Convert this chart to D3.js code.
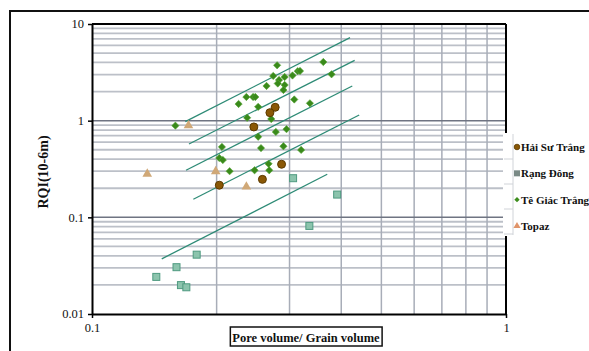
<!DOCTYPE html>
<html>
<head>
<meta charset="utf-8">
<script src="https://cdn.jsdelivr.net/npm/d3@7"></script>
<style>
  body { margin: 0; background: #fff; }
  svg { display: block; font-family: "Liberation Serif", "Times New Roman", serif; }
</style>
</head>
<body>
<div id="chartDiv"></div>
<script>
// series names, in legend order
var seriesNames = ["Hải Sư Trắng", "Rạng Đông", "Tê Giác Trắng", "Topaz"];

// [pore volume/grain volume, RQI]
var haiSuTrang = [[0.277, 1.376], [0.269, 1.210], [0.246, 0.861], [0.287, 0.354],
    [0.258, 0.247], [0.203, 0.215]];

var rangDong = [[0.143, 0.0242], [0.160, 0.0305], [0.164, 0.0199], [0.169, 0.0189],
    [0.179, 0.0411], [0.306, 0.254], [0.391, 0.172], [0.335, 0.0815]];

var teGiacTrang = [[0.159, 0.888], [0.206, 0.535], [0.203, 0.411], [0.207, 0.392],
    [0.215, 0.300], [0.226, 1.488], [0.236, 1.758], [0.245, 1.758], [0.248, 1.758],
    [0.237, 1.072], [0.247, 0.307], [0.252, 1.392], [0.252, 0.682], [0.256, 0.520],
    [0.264, 2.285], [0.267, 0.358], [0.268, 0.307], [0.271, 1.041], [0.274, 2.900],
    [0.280, 3.740], [0.283, 2.636], [0.281, 2.425], [0.292, 2.830], [0.292, 2.340],
    [0.290, 2.077], [0.278, 0.764], [0.295, 0.817], [0.290, 0.544], [0.305, 2.934],
    [0.314, 3.250], [0.318, 3.266], [0.308, 1.656], [0.320, 0.498], [0.336, 1.513],
    [0.362, 4.046], [0.379, 3.018]];

var topaz = [[0.171, 0.882], [0.136, 0.278], [0.199, 0.295], [0.236, 0.205]];

// zone lines, start and end points
var zoneLines = [
    [[0.168, 0.976], [0.420, 7.22]],
    [[0.1715, 0.574], [0.431, 4.21]],
    [[0.1687, 0.307], [0.4253, 2.285]],
    [[0.1757, 0.154], [0.442, 1.145]],
    [[0.1474, 0.0372], [0.370, 0.279]]
];

var xTicks = [0.1, 1];
var yTicks = [0.01, 0.1, 1, 10];

var outerWidth = 589, outerHeight = 351;
var margin = {top: 24, right: 83, bottom: 37, left: 92};
var width = outerWidth - margin.left - margin.right,
    height = outerHeight - margin.top - margin.bottom;

var svg = d3.select("#chartDiv")
    .append("svg")
    .attr("width", outerWidth)
    .attr("height", outerHeight);

// outer frame of the chart object
svg.append("rect")
    .attr("x", 10).attr("y", 11)
    .attr("width", 620).attr("height", 400)
    .attr("fill", "none")
    .attr("stroke", "#111")
    .attr("stroke-width", 2);

var g = svg.append("g").attr("transform", "translate(" + margin.left + "," + margin.top + ")");

var x = d3.scaleLog().domain([0.1, 1]).range([0, width]);
var y = d3.scaleLog().domain([0.01, 10]).range([height, 0]);

// minor grid
var yMinor = [];
[0.01, 0.1, 1].forEach(function (d) {
    for (var k = 2; k <= 9; k++) yMinor.push(d * k);
});
var xMinor = [];
for (var k = 2; k <= 9; k++) xMinor.push(0.1 * k);

g.selectAll(".hgrid")
    .data(yMinor)
    .enter().append("line")
    .attr("x1", 0).attr("x2", width)
    .attr("y1", d => y(d)).attr("y2", d => y(d))
    .attr("stroke", "#bcc0c8")
    .attr("stroke-width", 1.8);

g.selectAll(".vgrid")
    .data(xMinor)
    .enter().append("line")
    .attr("x1", d => x(d)).attr("x2", d => x(d))
    .attr("y1", 0).attr("y2", height)
    .attr("stroke", "#a8adb8")
    .attr("stroke-width", 1.5);

g.selectAll(".hmajor")
    .data([0.1, 1])
    .enter().append("line")
    .attr("x1", 0).attr("x2", width)
    .attr("y1", d => y(d)).attr("y2", d => y(d))
    .attr("stroke", "#6f7482")
    .attr("stroke-width", 1.5);

// plot border
g.append("line").attr("x1", 0).attr("x2", width).attr("y1", 0).attr("y2", 0)
    .attr("stroke", "#000").attr("stroke-width", 2);
g.append("line").attr("x1", width).attr("x2", width).attr("y1", 0).attr("y2", height)
    .attr("stroke", "#000").attr("stroke-width", 2);

// axes
var xAxis = d3.axisBottom(x).tickValues(xTicks).tickFormat(d3.format("")).tickSize(4).tickSizeOuter(0);
var yAxis = d3.axisLeft(y).tickValues(yTicks).tickFormat(d3.format("")).tickSize(4).tickSizeOuter(0);

var gx = g.append("g").attr("transform", "translate(0," + height + ")").call(xAxis);
var gy = g.append("g").call(yAxis);

[gx, gy].forEach(function (a) {
    a.select(".domain").attr("stroke", "#000").attr("stroke-width", 2);
    a.selectAll(".tick line").attr("stroke", "#000").attr("stroke-width", 1.5);
    a.selectAll(".tick text")
        .attr("fill", "#111")
        .style("font-family", "Liberation Serif, serif")
        .style("font-size", "12.5px");
});
gx.selectAll(".tick text").attr("dy", "0.9em");
gy.selectAll(".tick text").attr("x", -8).attr("dy", "0.3em");

// zone lines
var line = d3.line().x(d => x(d[0])).y(d => y(d[1]));
g.selectAll(".zone")
    .data(zoneLines)
    .enter().append("path")
    .attr("d", line)
    .attr("fill", "none")
    .attr("stroke", "#2e8b76")
    .attr("stroke-width", 1.3);

// markers
function drawCircles(data, r) {
    g.selectAll(null).data(data).enter().append("circle")
        .attr("cx", d => x(d[0])).attr("cy", d => y(d[1]))
        .attr("r", r)
        .attr("fill", "#8a5806").attr("stroke", "#5c3a00").attr("stroke-width", 1);
}
function drawSquares(data, s) {
    g.selectAll(null).data(data).enter().append("rect")
        .attr("x", d => x(d[0]) - s / 2).attr("y", d => y(d[1]) - s / 2)
        .attr("width", s).attr("height", s)
        .attr("fill", "#8cc4ad").attr("stroke", "#4f9a80").attr("stroke-width", 1);
}
var diamond = d3.symbol().type(d3.symbolDiamond2).size(34);
var tri = d3.symbol().type(d3.symbolTriangle).size(40);

drawSquares(rangDong, 7);
g.selectAll(null).data(teGiacTrang).enter().append("path")
    .attr("d", diamond)
    .attr("transform", d => "translate(" + x(d[0]) + "," + y(d[1]) + ")")
    .attr("fill", "#3a8a1b").attr("stroke", "#5aa83a").attr("stroke-width", 0.6);
g.selectAll(null).data(topaz).enter().append("path")
    .attr("d", tri)
    .attr("transform", d => "translate(" + x(d[0]) + "," + (y(d[1]) - 0.5) + ")")
    .attr("fill", "#d0a877");
drawCircles(haiSuTrang, 4);

// axis titles
svg.append("text")
    .attr("transform", "translate(48,172) rotate(-90)")
    .attr("text-anchor", "middle")
    .style("font-size", "14px")
    .style("font-weight", "bold")
    .attr("fill", "#111")
    .text("RQI(10-6m)");

var xt = svg.append("g");
var xtText = xt.append("text")
    .attr("x", 306).attr("y", 341.5)
    .attr("text-anchor", "middle")
    .style("font-size", "12.5px")
    .style("font-weight", "bold")
    .attr("fill", "#111")
    .text("Pore volume/ Grain volume");
var bb = xtText.node().getBBox();
xt.insert("rect", "text")
    .attr("x", bb.x - 2).attr("y", 327)
    .attr("width", bb.width + 4).attr("height", 19)
    .attr("fill", "#fff").attr("stroke", "#111").attr("stroke-width", 1.5);

// legend
var legend = svg.append("g");
legend.append("rect")
    .attr("x", 503).attr("y", 133).attr("width", 90).attr("height", 103)
    .attr("fill", "#fff");
legend.append("line")
    .attr("x1", 513).attr("x2", 513).attr("y1", 134).attr("y2", 235)
    .attr("stroke", "#d0d3d8").attr("stroke-width", 1);
legend.selectAll(".sep")
    .data([159, 184, 209, 234])
    .enter().append("line")
    .attr("x1", 504).attr("x2", 513)
    .attr("y1", d => d).attr("y2", d => d)
    .attr("stroke", "#d0d3d8").attr("stroke-width", 1);

var legendY = d3.scalePoint().domain(seriesNames).range([147, 226]);
var lx = 517;
legend.append("circle").attr("cx", lx).attr("cy", legendY(seriesNames[0])).attr("r", 2.8)
    .attr("fill", "#8a5806").attr("stroke", "#5c3a00").attr("stroke-width", 0.8);
legend.append("rect").attr("x", lx - 3).attr("y", legendY(seriesNames[1]) - 3)
    .attr("width", 6).attr("height", 6).attr("fill", "#7a8a86");
legend.append("path").attr("d", d3.symbol().type(d3.symbolDiamond2).size(18))
    .attr("transform", "translate(" + lx + "," + legendY(seriesNames[2]) + ")")
    .attr("fill", "#3d8d1d");
legend.append("path").attr("d", d3.symbol().type(d3.symbolTriangle).size(22))
    .attr("transform", "translate(" + lx + "," + legendY(seriesNames[3]) + ")")
    .attr("fill", "#e0946a");

legend.selectAll(".ltext")
    .data(seriesNames)
    .enter().append("text")
    .attr("x", 521)
    .attr("y", d => legendY(d))
    .attr("dy", "0.35em")
    .style("font-size", "11px")
    .style("font-weight", "bold")
    .attr("fill", "#111")
    .text(d => d);
</script>
</body>
</html>
